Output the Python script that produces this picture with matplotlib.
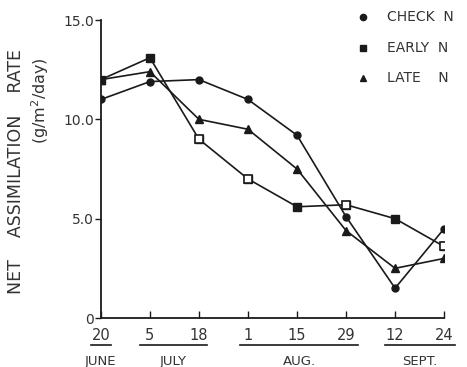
import matplotlib.pyplot as plt
import numpy as np

# sampling dates (evenly spaced on the axis)
dates = ['20', '5', '18', '1', '15', '29', '12', '24']
months = ['JUNE', 'JULY', 'AUG.', 'SEPT.']

check_n = [11.0, 11.9, 12.0, 11.0, 9.2, 5.1, 1.5, 4.5]
early_n = [12.0, 13.1, 9.0, 7.0, 5.6, 5.7, 5.0, 3.6]
late_n = [12.0, 12.4, 10.0, 9.5, 7.5, 4.4, 2.5, 3.0]

# points on EARLY N drawn as open squares
early_open = [2, 3, 5, 7]

ink = '#1a1a1a'
x = np.arange(len(dates))

fig = plt.figure(figsize=(4.67, 3.67), dpi=100)
ax = fig.add_axes([0.216, 0.1335, 0.735, 0.812])

ax.plot(x, check_n, '-o', color=ink, lw=1.2, ms=5)
ax.plot(x, early_n, '-s', color=ink, lw=1.2, ms=5.5)
ax.plot(x[early_open], np.array(early_n)[early_open], 's', color=ink,
        mfc='white', mew=1.2, ms=5.5)
ax.plot(x, late_n, '-^', color=ink, lw=1.2, ms=6)

ax.set_xlim(0, 7)
ax.set_ylim(0, 15)
ax.spines['top'].set_visible(False)
ax.spines['right'].set_visible(False)
for s in ['left', 'bottom']:
    ax.spines[s].set_linewidth(1.3)
    ax.spines[s].set_color(ink)

ax.set_yticks([0, 5, 10, 15])
ax.set_yticklabels(['0', '5.0', '10.0', '15.0'])
ax.set_xticks(x)
ax.set_xticklabels(dates)
ax.tick_params(axis='y', direction='out', length=4, width=1, colors=ink,
               labelsize=10, pad=1, labelcolor='#333333')
ax.tick_params(axis='x', direction='in', length=5, width=1, colors=ink,
               labelsize=10.5, pad=7, labelcolor='#333333')

ax.set_ylabel('NET    ASSIMILATION    RATE', fontsize=12.5, color='#333333')
ax.yaxis.set_label_coords(-0.222, 0.49)
ax.text(-0.178, 0.73, '(g/m$^2$/day)', transform=ax.transAxes, rotation=90,
        ha='center', va='center', fontsize=11.5, color='#333333')

# month underlines and labels
spans = [(-0.2, 0.2), (0.8, 2.16), (2.84, 5.24), (5.8, 7.22)]
for (a, b), m in zip(spans, months):
    ax.plot([a, b], [-0.09, -0.09], transform=ax.get_xaxis_transform(),
            color=ink, lw=1.2, clip_on=False)
    ax.text((a + b) / 2, -0.145, m, transform=ax.get_xaxis_transform(),
            ha='center', va='center', fontsize=9.5, color='#333333')

# legend
labels = ['CHECK  N', 'EARLY  N', 'LATE    N']
marks = ['o', 's', '^']
for i, (lab, mk) in enumerate(zip(labels, marks)):
    yy = 0.953 - i * 0.083
    fig.lines.append(plt.Line2D([363 / 467], [yy], marker=mk, color=ink,
                                ms=4.5, transform=fig.transFigure, ls='none'))
    fig.text(387 / 467, yy, lab, ha='left', va='center', fontsize=10,
             color='#333333')

fig.savefig('out.png', dpi=100)
